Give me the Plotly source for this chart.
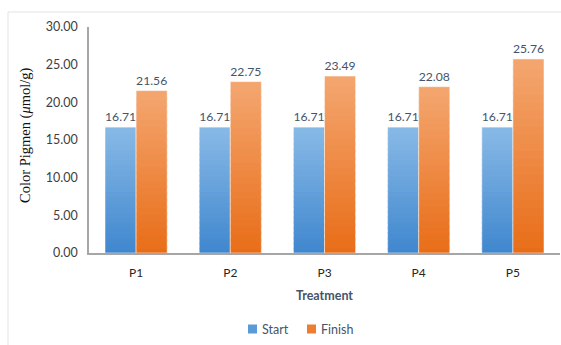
import plotly.graph_objects as go

# Pigment content per treatment
treatments = ["P1", "P2", "P3", "P4", "P5"]
start_vals = [16.71, 16.71, 16.71, 16.71, 16.71]
finish_vals = [21.56, 22.75, 23.49, 22.08, 25.76]
y_ticks = [0, 5, 10, 15, 20, 25, 30]

W, H = 561, 345
L, R, T, B = 89, 1, 27, 92
pw, ph = W - L - R, H - T - B

N_SLICES = 24


def lerp(c1, c2, t):
    return "rgb(%d,%d,%d)" % tuple(round(a + (b - a) * t) for a, b in zip(c1, c2))


def px_x(px):
    return (px - L) / pw


def px_y(py):
    return (T + ph - py) / ph


series = [
    ("Start", start_vals, (136, 185, 230), (62, 134, 206), "#5b9bd5"),
    ("Finish", finish_vals, (244, 166, 112), (232, 108, 22), "#ed7d31"),
]

fig = go.Figure()
for name, vals, top_c, bot_c, legend_c in series:
    # vertical gradient: each bar split into slightly overlapping slices,
    # dark at the base and light at the top
    for i in range(N_SLICES):
        t = (i + 0.5) / N_SLICES
        ov = 0.0 if i == 0 else 0.4
        fig.add_trace(go.Bar(
            x=treatments,
            y=[v * (1 + ov) / N_SLICES for v in vals],
            base=[v * (i - ov) / N_SLICES for v in vals],
            offsetgroup=name,
            marker=dict(color=lerp(bot_c, top_c, t), line=dict(width=0)),
            showlegend=False,
            hoverinfo="skip",
        ))
    # full bar outline and value label
    fig.add_trace(go.Bar(
        x=treatments,
        y=vals,
        offsetgroup=name,
        name=name,
        marker=dict(color="rgba(0,0,0,0)", line=dict(color="rgba(255,255,255,0.5)", width=1)),
        text=["%.2f" % v for v in vals],
        textposition="outside",
        cliponaxis=False,
        textfont=dict(family="Lato", size=13, color="#44546a"),
        showlegend=False,
    ))

# legend drawn as swatches + labels below the axis title
legend_items = [("Start", "#5b9bd5", 248), ("Finish", "#ed7d31", 307)]
shapes = []
annotations = []
for label, col, x0 in legend_items:
    shapes.append(dict(
        type="rect", xref="paper", yref="paper",
        x0=px_x(x0), x1=px_x(x0 + 9), y0=px_y(333.5), y1=px_y(324.5),
        fillcolor=col, line=dict(width=0),
    ))
    annotations.append(dict(
        text=label, xref="paper", yref="paper",
        x=px_x(x0 + 12), y=px_y(329.5), xanchor="left", yanchor="middle",
        showarrow=False, font=dict(family="Lato", size=12.5, color="#44546a"),
    ))

annotations.append(dict(
    text="Color Pigmen (<i>μ</i>mol/g)",
    xref="paper", yref="paper",
    x=px_x(25), y=px_y(135),
    xanchor="center", yanchor="middle",
    textangle=-90, showarrow=False,
    font=dict(family="Liberation Serif", size=14.5, color="#111111"),
))

shapes.append(dict(
    type="rect", xref="paper", yref="paper",
    x0=px_x(8), x1=px_x(W + 20),
    y0=px_y(H + 20), y1=px_y(12),
    line=dict(color="#e3e3e3", width=1), fillcolor="rgba(0,0,0,0)",
    layer="below",
))

fig.update_layout(
    width=W, height=H,
    margin=dict(l=L, r=R, t=T, b=B),
    paper_bgcolor="white",
    plot_bgcolor="white",
    barmode="group",
    bargap=0.34,
    bargroupgap=0,
    showlegend=False,
    font=dict(family="Lato", size=12, color="#404040"),
    xaxis=dict(
        showline=True, linecolor="#a6a6a6", linewidth=1.5,
        ticks="", showgrid=False,
        tickfont=dict(family="Lato", size=12, color="#262626"),
        ticklabelstandoff=8,
        title=dict(text="<b>Treatment</b>", font=dict(family="Lato", size=12.5, color="#44546a"), standoff=12),
    ),
    yaxis=dict(
        range=[0, 30],
        tickvals=y_ticks,
        tickformat=".2f",
        showline=True, linecolor="#a6a6a6", linewidth=1.5,
        ticks="", showgrid=False, zeroline=False,
        tickfont=dict(family="Lato", size=12.5, color="#404040"),
        ticklabelstandoff=7,
    ),
    annotations=annotations,
    shapes=shapes,
)

fig.write_html("out.html")
